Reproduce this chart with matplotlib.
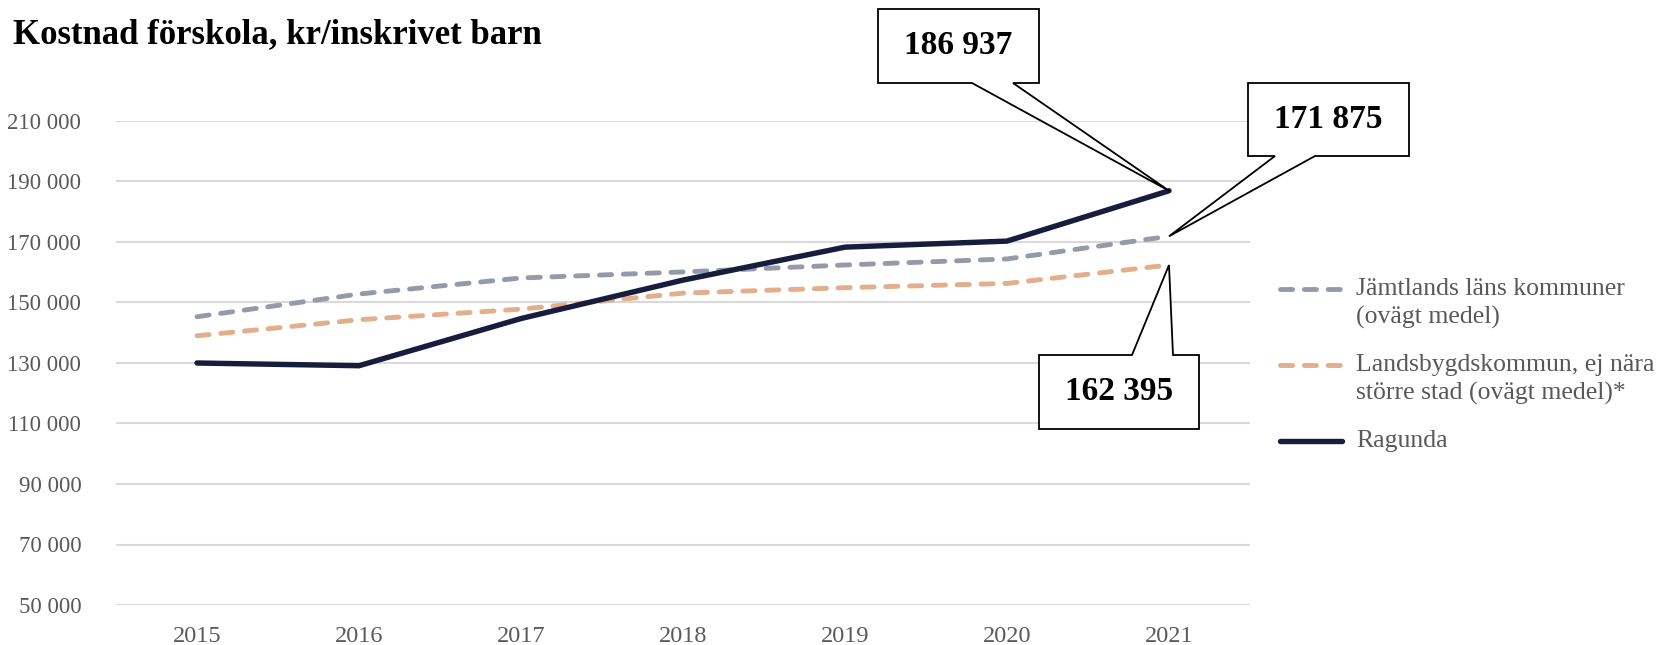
import matplotlib.pyplot as plt
import numpy as np
from matplotlib.lines import Line2D
from matplotlib.patches import Polygon

years = ["2015", "2016", "2017", "2018", "2019", "2020", "2021"]
jamtland = [145300, 152800, 158100, 160100, 162400, 164400, 171875]
landsbygd = [139000, 144300, 147800, 153100, 154900, 156300, 162395]
ragunda = [130000, 129100, 144700, 157400, 168300, 170300, 186937]

y_ticks = [50000, 70000, 90000, 110000, 130000, 150000, 170000, 190000, 210000]
series_labels = [
    "Jämtlands läns kommuner\n(ovägt medel)",
    "Landsbygdskommun, ej nära\nstörre stad (ovägt medel)*",
    "Ragunda",
]

W, H = 1671, 645
FONT = "Liberation Serif"
GREY_TEXT = "#595959"
C_JAMT = "#959aaa"
C_LAND = "#e2ae8c"
C_RAG = "#161d3d"
LW_DASH = 3.5
LW_SOLID = 3.9


def fig_xy(px, py):
    return px / W, 1 - py / H


def thousands(v):
    return f"{v:,}".replace(",", " ")


fig = plt.figure(figsize=(W / 100, H / 100), dpi=100)
ax = fig.add_axes([116 / W, (H - 605) / H, (1250 - 116) / W, 484 / H])

x = np.arange(len(years))
dash = dict(linestyle=(0, (2.5, 2.4)), dash_capstyle="round")
ax.plot(x, jamtland, color=C_JAMT, lw=LW_DASH, zorder=3, **dash)
ax.plot(x, landsbygd, color=C_LAND, lw=LW_DASH, zorder=3, **dash)
ax.plot(x, ragunda, color=C_RAG, lw=LW_SOLID, zorder=4, solid_capstyle="round")

ax.set_xlim(-0.5, len(years) - 0.5)
ax.set_ylim(y_ticks[0], y_ticks[-1])
ax.set_xticks(x, years)
ax.set_yticks(y_ticks, [thousands(v) for v in y_ticks])
ax.grid(axis="y", color="#d9d9d9", lw=1.5)
ax.set_axisbelow(True)
for s in ax.spines.values():
    s.set_visible(False)
ax.tick_params(length=0, labelcolor=GREY_TEXT)
ax.tick_params(axis="y", pad=25, labelsize=16.5)
ax.tick_params(axis="x", pad=15, labelsize=17.5)
for lab in ax.get_xticklabels() + ax.get_yticklabels():
    lab.set_fontfamily(FONT)

fig.text(*fig_xy(13, 43), "Kostnad förskola, kr/inskrivet barn", fontsize=25,
         fontweight="bold", fontfamily=FONT, va="baseline", ha="left")

# callouts for the 2021 values
callouts = [
    (ragunda[-1], (878, 9, 1039, 83), (972, 1013), "bottom"),
    (jamtland[-1], (1248, 83, 1409, 156), (1275, 1315), "bottom"),
    (landsbygd[-1], (1039, 355, 1199, 429), (1132, 1173), "top"),
]
inv = fig.transFigure.inverted()
for val, (x0, y0, x1, y1), (w0, w1), side in callouts:
    tip = inv.transform(ax.transData.transform((x[-1], val)))
    if side == "bottom":
        pts = [fig_xy(x0, y0), fig_xy(x1, y0), fig_xy(x1, y1), fig_xy(w1, y1),
               tuple(tip), fig_xy(w0, y1), fig_xy(x0, y1)]
    else:
        pts = [fig_xy(x0, y0), fig_xy(w0, y0), tuple(tip), fig_xy(w1, y0),
               fig_xy(x1, y0), fig_xy(x1, y1), fig_xy(x0, y1)]
    fig.add_artist(Polygon(pts, closed=True, facecolor="white", edgecolor="black",
                           lw=1.3, transform=fig.transFigure, zorder=10))
    fig.text(*fig_xy((x0 + x1) / 2, (y0 + y1) / 2), thousands(val), fontsize=24,
             fontweight="bold", fontfamily=FONT, ha="center", va="center", zorder=11)

# legend drawn by hand
legend_rows = [
    (series_labels[0], C_JAMT, LW_DASH, dash, 289),
    (series_labels[1], C_LAND, LW_DASH, dash, 365),
    (series_labels[2], C_RAG, LW_SOLID, dict(solid_capstyle="round"), 441),
]
for label, color, lw, style, py in legend_rows:
    (lx0, ly), (lx1, _) = fig_xy(1280, py), fig_xy(1342, py)
    fig.add_artist(Line2D([lx0, lx1], [ly, ly], color=color, lw=lw,
                          transform=fig.transFigure, **style))
    for i, line in enumerate(label.split("\n")):
        fig.text(*fig_xy(1356, py + 6 + i * 29), line, fontsize=18.5, fontfamily=FONT,
                 color=GREY_TEXT, ha="left", va="baseline")

fig.savefig("out.png", dpi=100)
